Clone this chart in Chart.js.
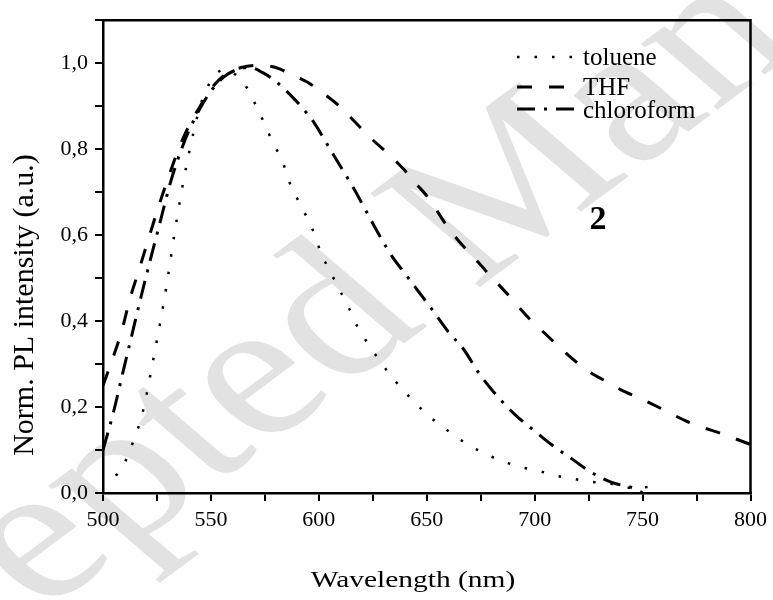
<!DOCTYPE html>
<html>
<head>
<meta charset="utf-8">
<script src="https://cdn.jsdelivr.net/npm/chart.js@4.4.0/dist/chart.umd.min.js"></script>
<style>
	html, body { margin: 0; padding: 0; background: #fff; }
</style>
</head>
<body>
<canvas id="myChart" width="773" height="600"></canvas>
<script>
	// data (wavelength in nm, normalised intensity)
	var tolueneX = [506, 510, 514, 518, 521, 524, 527, 530, 533, 536, 539, 542, 545, 549, 553, 557, 561, 566, 571, 575, 579, 583, 586, 590, 594, 598, 601, 605, 609, 614, 618, 623, 629, 635, 643, 651, 660, 668, 676, 685, 694, 702, 711, 719, 728, 736, 745, 753];
	var tolueneY = [0.04, 0.07, 0.12, 0.18, 0.25, 0.33, 0.41, 0.50, 0.60, 0.69, 0.77, 0.84, 0.90, 0.95, 0.978, 0.985, 0.975, 0.948, 0.90, 0.857, 0.812, 0.774, 0.728, 0.685, 0.646, 0.602, 0.558, 0.518, 0.478, 0.43, 0.386, 0.346, 0.302, 0.263, 0.218, 0.179, 0.144, 0.116, 0.094, 0.074, 0.060, 0.051, 0.039, 0.032, 0.025, 0.021, 0.012, 0.014];

	var thfX = [500, 504, 508.6, 512.5, 516.8, 521, 525.6, 530.2, 535, 540, 545, 550, 557, 564, 572, 580, 588, 595, 602, 610, 617, 624, 632, 639, 645, 651, 659, 665, 671, 679, 687, 698, 705, 712, 719, 726, 733, 740, 748, 756, 763, 770, 777, 785, 792, 800];
	var thfY = [0.25, 0.306, 0.376, 0.452, 0.521, 0.59, 0.664, 0.733, 0.80, 0.856, 0.90, 0.94, 0.975, 0.99, 0.995, 0.99, 0.972, 0.955, 0.93, 0.898, 0.862, 0.826, 0.79, 0.755, 0.72, 0.685, 0.624, 0.585, 0.553, 0.508, 0.465, 0.403, 0.37, 0.337, 0.306, 0.28, 0.26, 0.24, 0.222, 0.203, 0.185, 0.168, 0.154, 0.141, 0.128, 0.113];

	var chloroformX = [500, 504.8, 509, 513.2, 517.4, 522, 526.4, 531.4, 536, 540, 545, 550, 556, 562, 568, 574, 580, 585, 592, 598, 604, 610, 616, 622, 628, 634, 640, 646, 652, 660, 667, 674, 681, 690.5, 699.3, 708.2, 717.1, 725.9, 736, 746, 750];
	var chloroformY = [0.10, 0.187, 0.276, 0.364, 0.452, 0.544, 0.629, 0.725, 0.795, 0.845, 0.895, 0.935, 0.968, 0.985, 0.99, 0.978, 0.958, 0.935, 0.898, 0.86, 0.81, 0.76, 0.71, 0.655, 0.60, 0.55, 0.51, 0.47, 0.43, 0.375, 0.335, 0.28, 0.235, 0.184, 0.147, 0.111, 0.080, 0.049, 0.024, 0.011, 0.0];

	var seriesLabels = ['toluene', 'THF', 'chloroform'];

	var serif = "'Liberation Serif', 'Times New Roman', serif";

	function toPoints(xs, ys) {
		return xs.map(function(x, i) {
			return { x: x, y: ys[i] };
		});
	}

	// white background + the grey watermark behind everything
	var backgroundPlugin = {
		id: 'background',
		beforeDraw: function(chart) {
			var c = chart.ctx;
			c.save();
			c.fillStyle = '#fff';
			c.fillRect(0, 0, chart.width, chart.height);
			c.translate(478, 218);
			c.scale(1.25, 1);
			c.rotate(-43 * Math.PI / 180);
			c.fillStyle = 'rgb(226,226,226)';
			c.font = '196px ' + serif;
			c.textAlign = 'center';
			c.textBaseline = 'middle';
			c.fillText('Accepted Manuscript', 0, 0);
			c.restore();
		}
	};

	// closed frame, axis titles, legend and the "2" label
	var decorPlugin = {
		id: 'decor',
		afterDraw: function(chart) {
			var c = chart.ctx;
			var a = chart.chartArea;
			c.save();
			c.strokeStyle = '#000';
			c.lineWidth = 2.5;
			c.beginPath();
			c.moveTo(a.left, a.top);
			c.lineTo(a.right, a.top);
			c.lineTo(a.right, a.bottom);
			c.stroke();

			c.fillStyle = '#000';
			c.textAlign = 'center';
			c.textBaseline = 'middle';

			// x title (a bit wide in the original)
			c.save();
			c.translate(413, 581);
			c.scale(1.28, 1);
			c.font = '23px ' + serif;
			c.fillText('Wavelength (nm)', 0, 0);
			c.restore();

			// y title
			c.save();
			c.translate(25, 305);
			c.rotate(-Math.PI / 2);
			c.font = '30px ' + serif;
			c.fillText('Norm. PL intensity (a.u.)', 0, 0);
			c.restore();

			// compound number
			c.font = 'bold 34px ' + serif;
			c.textBaseline = 'alphabetic';
			c.fillText('2', 598, 229);

			// legend
			var lineY = [57, 87, 109];
			var textY = [65, 95, 118];
			c.textAlign = 'left';
			c.font = '25px ' + serif;
			chart.data.datasets.forEach(function(ds, i) {
				c.save();
				c.lineWidth = ds.borderWidth;
				c.setLineDash(ds.borderDash);
				c.beginPath();
				c.moveTo(517, lineY[i]);
				c.lineTo(574, lineY[i]);
				c.stroke();
				c.restore();
				c.fillText(ds.label, 583, textY[i]);
			});
			c.restore();
		}
	};

	var ctx = document.getElementById('myChart').getContext('2d');
	var myChart = new Chart(ctx, {
		type: 'line',
		data: {
			datasets: [
				{
					label: seriesLabels[0],
					data: toPoints(tolueneX, tolueneY),
					borderColor: '#000',
					borderWidth: 2.5,
					borderDash: [2.5, 15],
				},
				{
					label: seriesLabels[1],
					data: toPoints(thfX, thfY),
					borderColor: '#000',
					borderWidth: 3,
					borderDash: [15, 17],
				},
				{
					label: seriesLabels[2],
					data: toPoints(chloroformX, chloroformY),
					borderColor: '#000',
					borderWidth: 3,
					borderDash: [18, 9, 3, 9],
				}
			]
		},
		options: {
			responsive: false,
			animation: false,
			cubicInterpolationMode: 'monotone',
			elements: {
				point: { radius: 0 }
			},
			layout: {
				padding: { left: 0, top: 15, right: 21, bottom: 0 }
			},
			plugins: {
				legend: { display: false },
				tooltip: { enabled: false }
			},
			scales: {
				x: {
					type: 'linear',
					min: 500,
					max: 800,
					afterFit: function(scale) { scale.height = 107; },
					border: { color: '#000', width: 2.5 },
					grid: { drawOnChartArea: false, color: '#000', lineWidth: 2, tickLength: 8 },
					ticks: {
						stepSize: 25,
						padding: 6,
						color: '#000',
						font: { family: serif, size: 22 },
						maxRotation: 0,
						callback: function(v) {
							return v % 50 === 0 ? String(v) : '';
						}
					}
				},
				y: {
					min: 0,
					max: 1.1,
					afterFit: function(scale) { scale.width = 103; },
					border: { color: '#000', width: 2.5 },
					grid: { drawOnChartArea: false, color: '#000', lineWidth: 2, tickLength: 8 },
					ticks: {
						stepSize: 0.1,
						padding: 7,
						color: '#000',
						font: { family: serif, size: 22 },
						callback: function(v) {
							var n = Math.round(v * 10);
							return n % 2 === 0 ? (n / 10).toFixed(1).replace('.', ',') : '';
						}
					}
				}
			}
		},
		plugins: [backgroundPlugin, decorPlugin]
	});
</script>
</body>
</html>
